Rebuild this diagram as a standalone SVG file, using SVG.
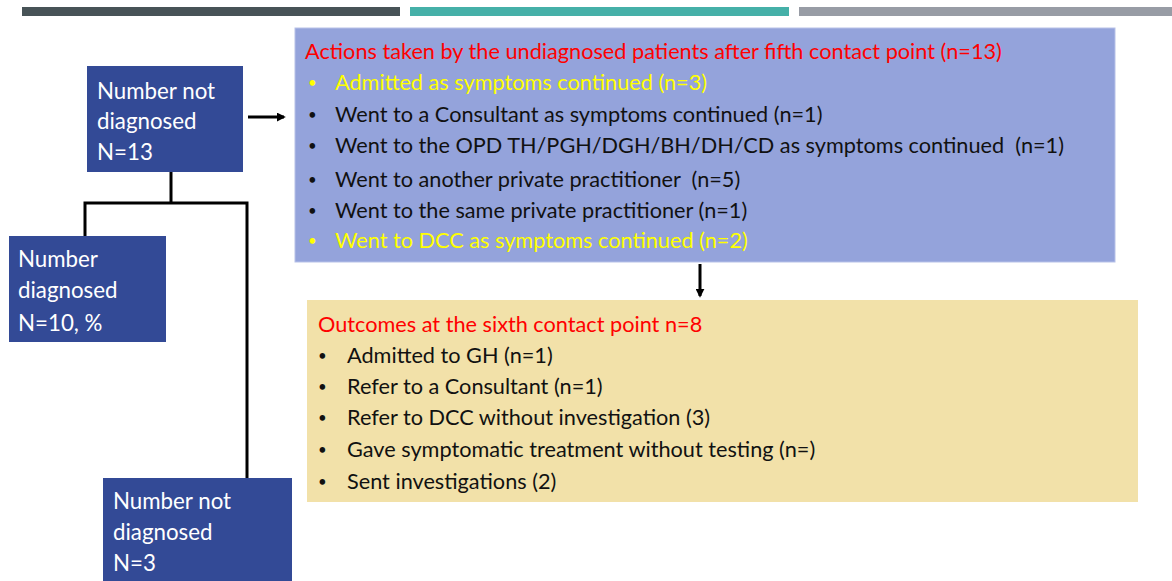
<svg xmlns="http://www.w3.org/2000/svg" width="1172" height="581" viewBox="0 0 1172 581">
<style>
.bx{fill:#334A96}
.wt{fill:#FFFFFF;font-family:Lato,"Liberation Sans",sans-serif;font-size:22.3px}
.t{font-family:Lato,"Liberation Sans",sans-serif;font-size:21.7px;fill:#111111;white-space:pre}
.b{font-family:Lato,"Liberation Sans",sans-serif;font-size:15px;fill:#111111}
.red{fill:#FF0000}
.yel{fill:#FFFF00}
.ln{fill:none;stroke:#000;stroke-width:3}
</style>
<defs>
<marker id="ah" viewBox="0 0 10 10" refX="8" refY="5" markerWidth="3" markerHeight="3" orient="auto">
<path d="M0,0 L10,5 L0,10 z" fill="#000"/>
</marker>
</defs>
<rect width="1172" height="581" fill="#FFFFFF"/>
<g id="bars">
<rect x="22" y="7" width="378" height="9" fill="#475357"/>
<rect x="410" y="7" width="379" height="9" fill="#45B0A8"/>
<rect x="799" y="7" width="373" height="9" fill="#989CA5"/>
</g>
<g id="connectors">
<line class="ln" x1="248" y1="117" x2="284" y2="117" marker-end="url(#ah)" stroke-width="4"/>
<polyline class="ln" points="171,172 171,203"/>
<polyline class="ln" points="85,237 85,203 247,203 247,478"/>
<line class="ln" x1="700" y1="264" x2="700" y2="296" marker-end="url(#ah)" stroke-width="3.5"/>
</g>
<g id="n1">
<rect class="bx" x="87" y="66" width="156" height="106"/>
<text class="wt" x="97" y="99">Number not</text>
<text class="wt" x="97" y="129">diagnosed</text>
<text class="wt" x="97" y="160">N=13</text>
</g>
<g id="n2">
<rect class="bx" x="9" y="236" width="157" height="106"/>
<text class="wt" x="18" y="267">Number</text>
<text class="wt" x="18" y="298">diagnosed</text>
<text class="wt" x="18" y="331">N=10, %</text>
</g>
<g id="n3">
<rect class="bx" x="103" y="478" width="189" height="110"/>
<text class="wt" x="113" y="509">Number not</text>
<text class="wt" x="113" y="540">diagnosed</text>
<text class="wt" x="113" y="571">N=3</text>
</g>
<g id="actions">
<rect x="295" y="28" width="820" height="234" fill="#94A3DB" stroke="#B7C1E8" stroke-width="1"/>
<text class="t red" x="305" y="59">Actions taken by the undiagnosed patients after fifth contact point (n=13)</text>
<text class="b yel" x="308" y="88">•</text><text class="t yel" x="335" y="90">Admitted as symptoms continued (n=3)</text>
<text class="b" x="308" y="120">•</text><text class="t" x="335" y="122">Went to a Consultant as symptoms continued (n=1)</text>
<text class="b" x="308" y="151">•</text><text class="t" x="335" y="153" xml:space="preserve">Went to the OPD TH/PGH/DGH/BH/DH/CD as symptoms continued  (n=1)</text>
<text class="b" x="308" y="185">•</text><text class="t" x="335" y="187" xml:space="preserve">Went to another private practitioner  (n=5)</text>
<text class="b" x="308" y="216">•</text><text class="t" x="335" y="218">Went to the same private practitioner (n=1)</text>
<text class="b yel" x="308" y="246">•</text><text class="t yel" x="335" y="248">Went to DCC as symptoms continued (n=2)</text>
</g>
<g id="outcomes">
<rect x="307" y="300" width="831" height="202" fill="#F2E1A9"/>
<text class="t red" x="318" y="332">Outcomes at the sixth contact point n=8</text>
<text class="b" x="318" y="361">•</text><text class="t" x="347" y="363">Admitted to GH (n=1)</text>
<text class="b" x="318" y="392">•</text><text class="t" x="347" y="394">Refer to a Consultant (n=1)</text>
<text class="b" x="318" y="423">•</text><text class="t" x="347" y="425">Refer to DCC without investigation (3)</text>
<text class="b" x="318" y="455">•</text><text class="t" x="347" y="457">Gave symptomatic treatment without testing (n=)</text>
<text class="b" x="318" y="487">•</text><text class="t" x="347" y="489">Sent investigations (2)</text>
</g>
</svg>
